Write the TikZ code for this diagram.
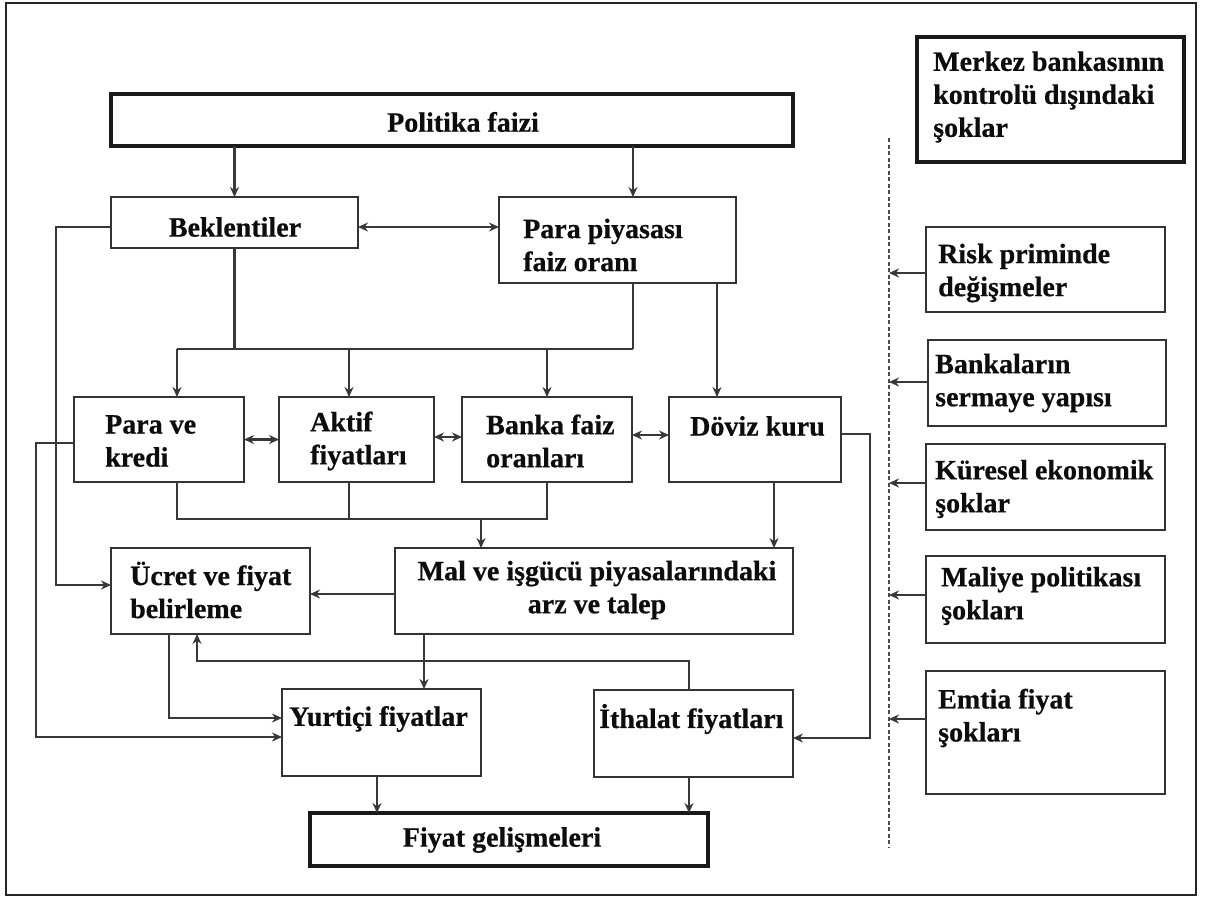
\documentclass[tikz,border=0pt]{standalone}
\usepackage{fontspec}
\setmainfont{Liberation Serif}[BoldFeatures={FakeBold=0.6}]
\usetikzlibrary{arrows.meta}
\begin{document}
\begin{tikzpicture}[x=1pt,y=-1pt,
 box/.style={draw=black!80,line width=2.5pt,inner sep=0pt,outer sep=0pt},
 tbox/.style={box,draw=black!90,line width=4.5pt},
 txt/.style={font=\fontsize{28}{33}\selectfont\bfseries,inner sep=0pt,align=left,text=black!95},
 conn/.style={draw=black!78,line width=2.3pt},
 arr/.style={conn,-{Stealth[length=10pt,width=9pt]}},
 darr/.style={conn,{Stealth[length=10pt,width=9pt]}-{Stealth[length=10pt,width=9pt]}},
 sep/.style={draw=black!70,line width=1.8pt,dash pattern=on 4pt off 2.5pt},
]
\useasboundingbox (0,0) rectangle (1206,898);
\draw[draw=black!85,line width=2.2pt] (6,3) rectangle (1196,895);

% boxes
\node[tbox,minimum width=682,minimum height=52] (pf) at (452,120) {};
\node[tbox,minimum width=267,minimum height=125] (mk) at (1050.5,99.5) {};
\node[box,minimum width=247,minimum height=51] (bk) at (234.5,222.5) {};
\node[box,minimum width=237,minimum height=86] (pp) at (617.5,240) {};
\node[box,minimum width=170,minimum height=85] (pk) at (159,439.5) {};
\node[box,minimum width=155,minimum height=85] (af) at (356.5,439.5) {};
\node[box,minimum width=170,minimum height=85] (bf) at (547,439.5) {};
\node[box,minimum width=172,minimum height=85] (dk) at (755,439.5) {};
\node[box,minimum width=199,minimum height=86] (ucr) at (210.5,591) {};
\node[box,minimum width=398,minimum height=86] (mal) at (594,591) {};
\node[box,minimum width=199,minimum height=87] (yi) at (381.5,732.5) {};
\node[box,minimum width=199,minimum height=87] (it) at (693.5,733.5) {};
\node[tbox,minimum width=398,minimum height=53] (fg) at (509,839.5) {};
\node[box,minimum width=239,minimum height=85] (rp) at (1045.5,269.5) {};
\node[box,minimum width=238,minimum height=86] (bs) at (1047,383) {};
\node[box,minimum width=239,minimum height=86] (ke) at (1045.5,487) {};
\node[box,minimum width=239,minimum height=87] (mp) at (1045.5,599.5) {};
\node[box,minimum width=239,minimum height=123] (et) at (1045.5,732.5) {};

% texts
\node[txt] (tpf) at (463,122) {Politika faizi};
\node[txt,anchor=west] (tmk) at (933,97) {Merkez bankasının\\kontrolü dışındaki\\şoklar};
\node[txt] (tbk) at (235,227) {Beklentiler};
\node[txt,anchor=west] (tpp) at (523,245) {Para piyasası\\faiz oranı};
\node[txt,anchor=west] (tpk) at (105,441) {Para ve\\kredi};
\node[txt,anchor=west] (taf) at (310,441) {Aktif\\fiyatları};
\node[txt,anchor=west] (tbf) at (486,441) {Banka faiz\\oranları};
\node[txt,anchor=west] (tdk) at (690,426) {Döviz kuru};
\node[txt,anchor=west] (tucr) at (130,590) {Ücret ve fiyat\\belirleme};
\node[txt,align=center] (tmal) at (597,590) {Mal ve işgücü piyasalarındaki\\arz ve talep};
\node[txt,anchor=west] (tyi) at (289,719) {Yurtiçi fiyatlar};
\node[txt,anchor=west] (tit) at (599,719) {İthalat fiyatları};
\node[txt] (tfg) at (502,840) {Fiyat gelişmeleri};
\node[txt,anchor=west] (trp) at (938,273) {Risk priminde\\değişmeler};
\node[txt,anchor=west] (tbs) at (935,383) {Bankaların\\sermaye yapısı};
\node[txt,anchor=west] (tke) at (935,489) {Küresel ekonomik\\şoklar};
\node[txt,anchor=west] (tmp) at (941,596) {Maliye politikası\\şokları};
\node[txt,anchor=west] (tet) at (938,718) {Emtia fiyat\\şokları};

% helper coordinates
\coordinate (j1) at (177,349);
\coordinate (j2) at (633,349);
\coordinate (k1) at (177,519);
\coordinate (k2) at (547,519);
\coordinate (dl) at (889,138);
\coordinate (dle) at (889,848);

% connectors
\draw[arr] (pf.south -| bk.north) -- (bk.north);
\draw[arr] (pf.south -| j2) -- (pp.north -| j2);
\draw[darr] (bk.east |- 0,227) -- (pp.west |- 0,227);
\draw[conn] (bk.south) -- (bk.south |- j1);
\draw[conn] (pp.south -| j2) -- (j2);
\draw[conn] (j1) -- (j2);
\draw[arr] (j1) -- (pk.north -| j1);
\draw[arr] (349,349) -- (af.north -| 349,0);
\draw[arr] (bf.north |- j1) -- (bf.north);
\draw[arr] (pp.south -| 717,0) -- (dk.north -| 717,0);
\draw[darr] (pk.east) -- (af.west);
\draw[darr] (af.east |- 0,437) -- (bf.west |- 0,437);
\draw[darr] (bf.east |- 0,435) -- (dk.west |- 0,435);
\draw[conn] (pk.south -| k1) -- (k1) -- (k2) -- (bf.south);
\draw[conn] (af.south -| 349,0) -- (349,519);
\draw[arr] (481,519) -- (mal.north -| 481,0);
\draw[arr] (dk.south -| 774,0) -- (mal.north -| 774,0);
\draw[arr] (dk.east |- 0,434) -- (870,434) -- (870,738) -- (it.east |- 0,738);
\draw[arr] (mal.west |- 0,594) -- (ucr.east |- 0,594);
\draw[arr] (bk.west |- 0,227) -- (56,227) -- (56,585) -- (ucr.west |- 0,585);
\draw[arr] (pk.west |- 0,443) -- (36,443) -- (36,737) -- (yi.west |- 0,737);
\draw[arr] (ucr.south -| 169,0) -- (169,718) -- (yi.west |- 0,718);
\draw[arr] (mal.south -| 424,0) -- (yi.north -| 424,0);
\draw[arr] (it.north -| 689,0) -- (689,661) -- (197,661) -- (ucr.south -| 197,0);
\draw[arr] (yi.south -| 377,0) -- (fg.north -| 377,0);
\draw[arr] (it.south -| 689,0) -- (fg.north -| 689,0);

% separator and shocks
\draw[sep] (dl) -- (dle);
\draw[arr] (rp.west |- 0,273) -- (dl |- 0,273);
\draw[arr] (bs.west |- 0,382) -- (dl |- 0,382);
\draw[arr] (ke.west |- 0,483) -- (dl |- 0,483);
\draw[arr] (mp.west |- 0,595) -- (dl |- 0,595);
\draw[arr] (et.west |- 0,719) -- (dl |- 0,719);
\end{tikzpicture}
\end{document}
